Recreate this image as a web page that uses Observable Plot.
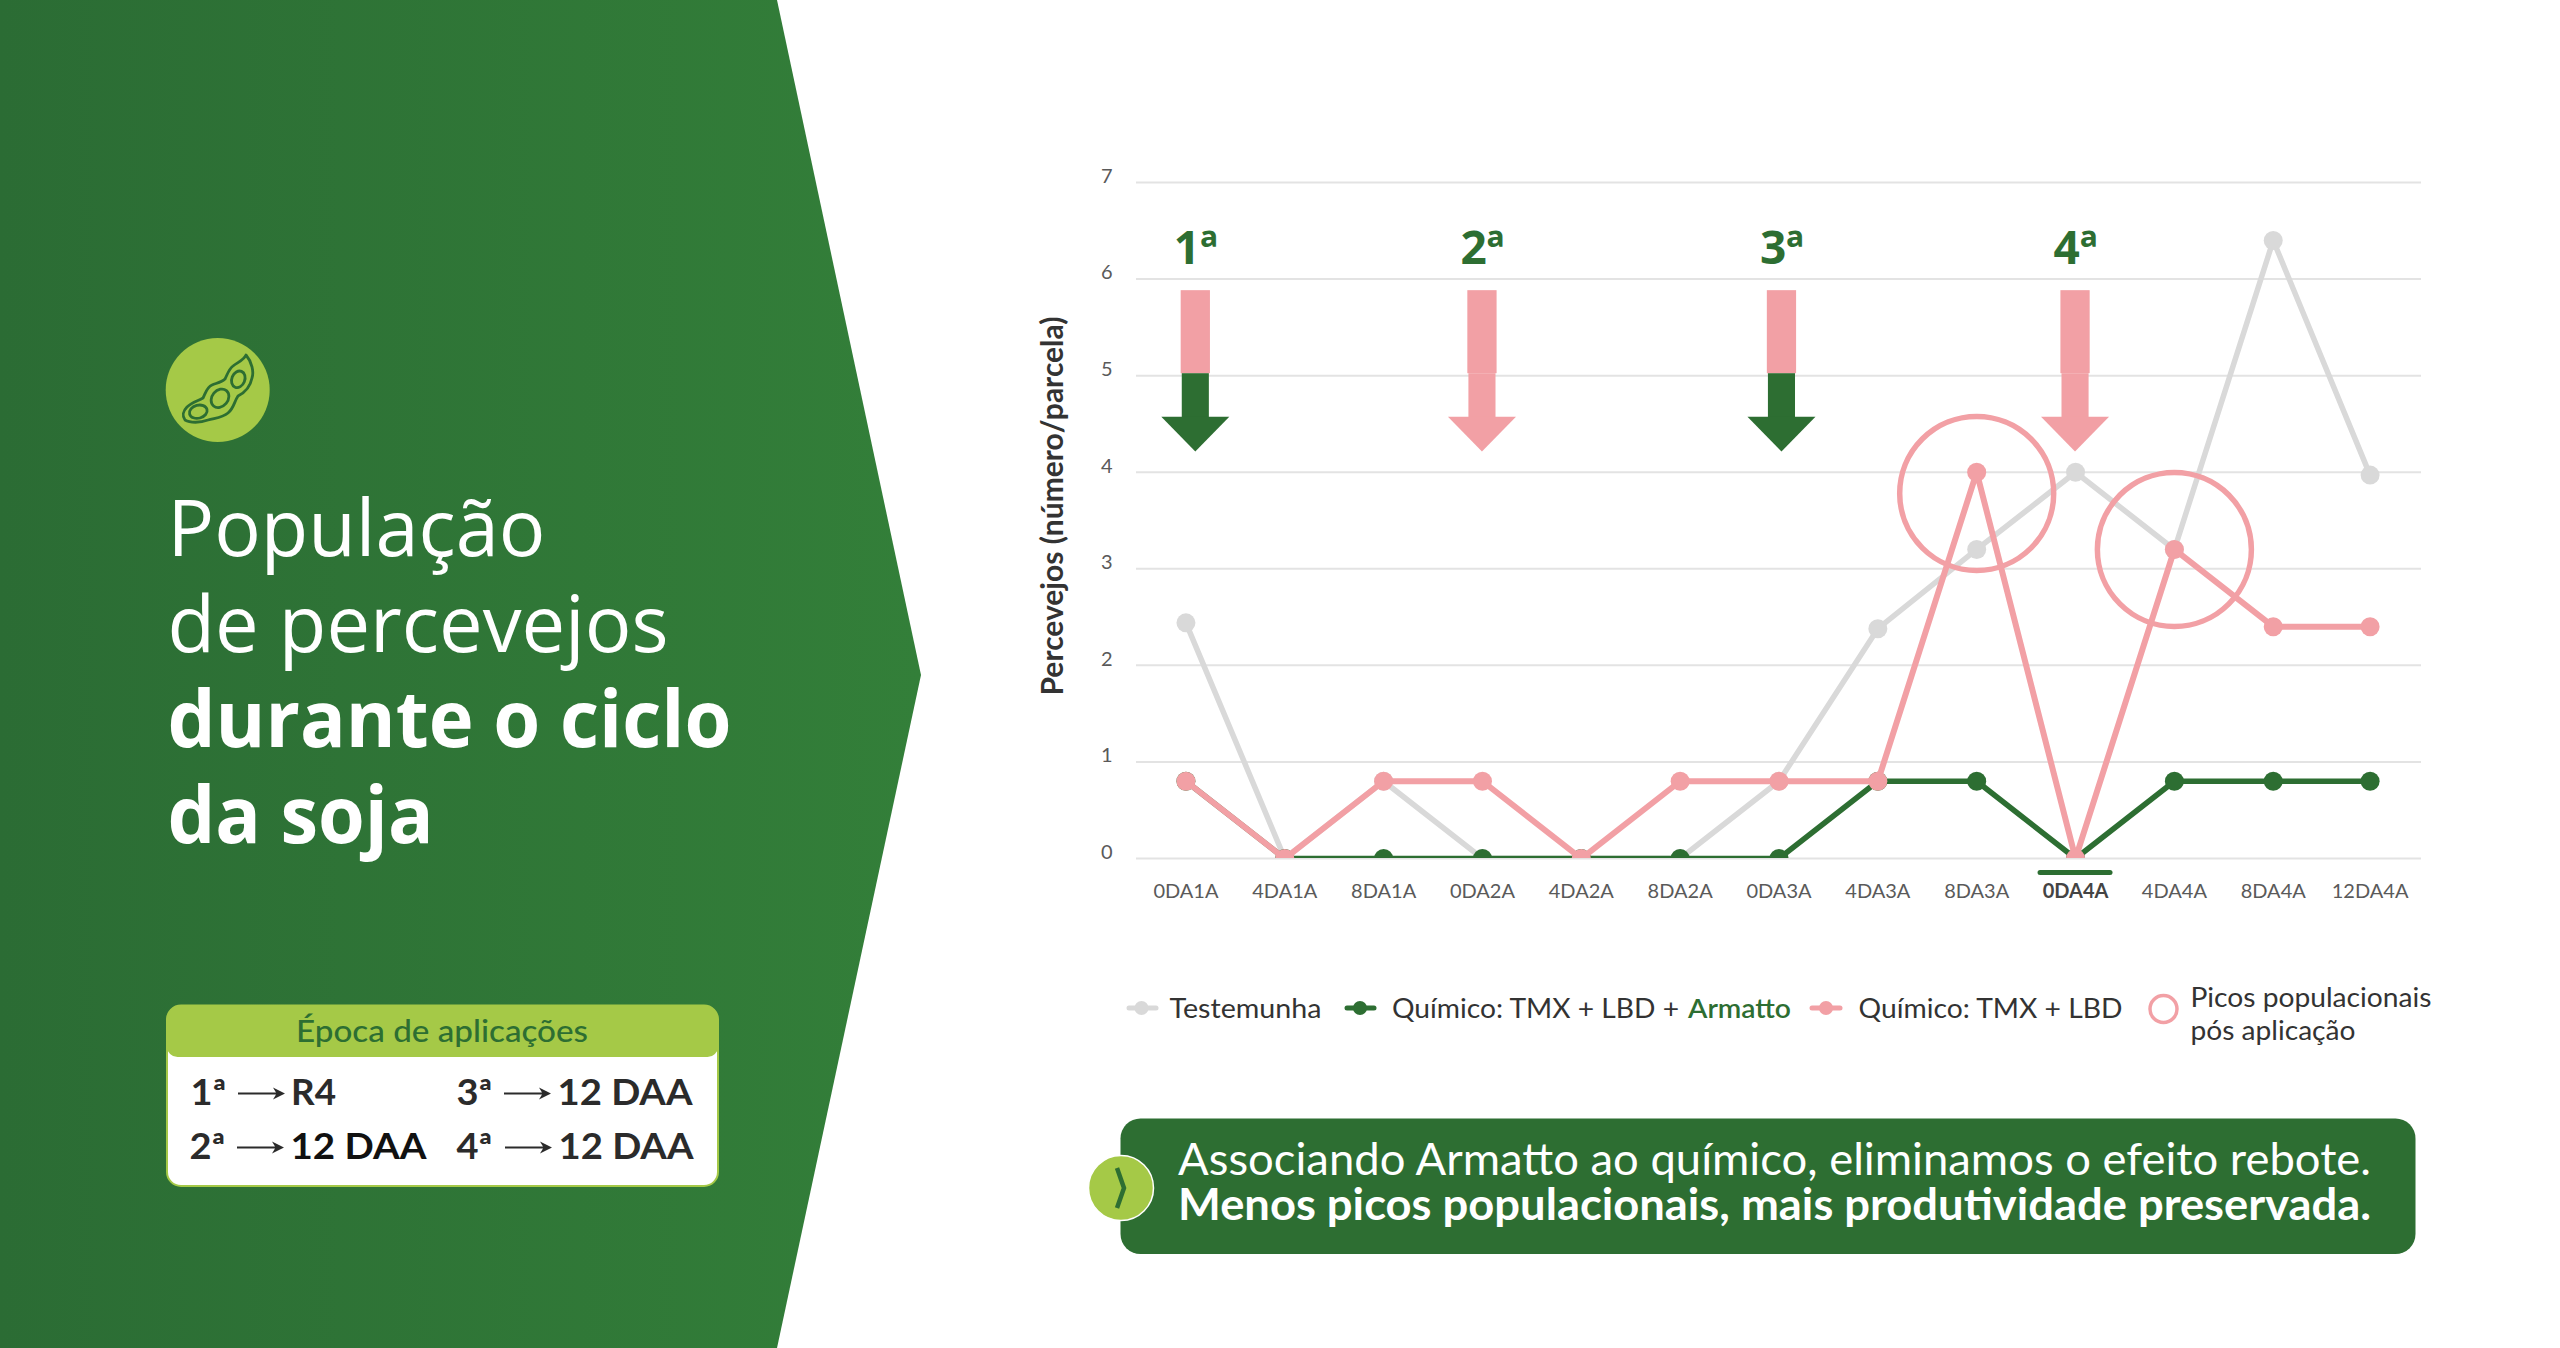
<!DOCTYPE html>
<html lang="pt">
<head>
<meta charset="utf-8">
<title>População de percevejos durante o ciclo da soja</title>
<script src="https://cdn.jsdelivr.net/npm/d3@7"></script>
<script src="https://cdn.jsdelivr.net/npm/@observablehq/plot@0.6"></script>
<style>
html,body{margin:0;padding:0;background:#fff;width:2560px;height:1348px;overflow:hidden}
#page{position:relative;width:2560px;height:1348px}
#deco{position:absolute;left:0;top:0}
#chart{position:absolute;left:1000px;top:0}
#chart svg{display:block;background:transparent}
</style>
</head>
<body>
<div id="page">
<svg id="deco" width="2560" height="1348" viewBox="0 0 2560 1348" xmlns="http://www.w3.org/2000/svg">
  <defs>
    <linearGradient id="pg" x1="0" x2="1" y1="0" y2="0">
      <stop offset="0" stop-color="#2b6c34"/><stop offset="1" stop-color="#337f39"/>
    </linearGradient>
  </defs>
  <polygon points="0,0 777,0 921,675 777,1348 0,1348" fill="url(#pg)"/>

  <circle cx="217.700" cy="390" r="52" fill="#a5c947"/>
  <g fill="none" stroke="#2d6e32" stroke-width="2.800" stroke-linejoin="round">
    <path d="M246 355 C252 362 254 372 252 378 C250 388 244 393 238 396 C234 402 234 408 228 413 C222 418 214 418 208 420 C200 423 190 423 185 420 C182 416 183 411 187 407 C192 402 198 401 203 398 C206 392 207 387 212 385 C217 383 222 382 225 379 C228 373 229 369 233 366 C238 362 244 360 246 355 Z"/>
    <ellipse cx="238.300" cy="379.300" rx="6.500" ry="8.500" transform="rotate(22 238.300 379.300)"/>
    <ellipse cx="220" cy="398.300" rx="8" ry="10" transform="rotate(40 220 398.300)"/>
    <ellipse cx="198.300" cy="411.700" rx="9" ry="6.500" transform="rotate(-15 198.300 411.700)"/>
  </g>

  <g fill="#fff" font-family="'Open Sans'" font-size="78">
    <text x="167.500" y="555.500" font-weight="400" textLength="378" lengthAdjust="spacingAndGlyphs">População</text>
    <text x="167.500" y="651.500" font-weight="400" textLength="501" lengthAdjust="spacingAndGlyphs">de percevejos</text>
    <text x="167.500" y="747" font-weight="700" textLength="564" lengthAdjust="spacingAndGlyphs">durante o ciclo</text>
    <text x="167.500" y="843" font-weight="700" textLength="266" lengthAdjust="spacingAndGlyphs">da soja</text>
  </g>

  <rect x="167" y="1005.500" width="551" height="180.500" rx="14" fill="#fff" stroke="#a5c947" stroke-width="2"/>
  <path d="M167 1019.500 a14 14 0 0 1 14 -14 h523 a14 14 0 0 1 14 14 v27 a10.500 10.500 0 0 1 -10.500 10.500 h-530 a10.500 10.500 0 0 1 -10.500 -10.500 Z" fill="#a5c947"/>
  <text x="296" y="1042" font-family="Lato" font-weight="500" font-size="30" fill="#2d6e32" textLength="292" lengthAdjust="spacingAndGlyphs">Época de aplicações</text>
  <g font-family="Lato" font-weight="700" font-size="36" fill="#2b2b2b">
    <text x="190.500" y="1105" textLength="36" lengthAdjust="spacingAndGlyphs">1ª</text>
    <text x="291" y="1105" textLength="45" lengthAdjust="spacingAndGlyphs">R4</text>
    <text x="189.500" y="1159" textLength="36" lengthAdjust="spacingAndGlyphs">2ª</text>
    <text x="290.500" y="1159" fill="#111" textLength="136" lengthAdjust="spacingAndGlyphs">12 DAA</text>
    <text x="456.500" y="1105" textLength="36" lengthAdjust="spacingAndGlyphs">3ª</text>
    <text x="557.500" y="1105" textLength="135" lengthAdjust="spacingAndGlyphs">12 DAA</text>
    <text x="456.500" y="1159" textLength="36" lengthAdjust="spacingAndGlyphs">4ª</text>
    <text x="558.500" y="1159" textLength="135" lengthAdjust="spacingAndGlyphs">12 DAA</text>
  </g>
  <g fill="#2b2b2b" stroke="none">
    <path d="M238 1092.500 h38 l-3 -5 l12 6 l-12 6 l3 -5 h-38 Z"/>
    <path d="M237 1146.500 h38 l-3 -5 l12 6 l-12 6 l3 -5 h-38 Z"/>
    <path d="M504 1092.500 h38 l-3 -5 l12 6 l-12 6 l3 -5 h-38 Z"/>
    <path d="M505 1146.500 h38 l-3 -5 l12 6 l-12 6 l3 -5 h-38 Z"/>
  </g>

  <!-- legend -->
  <g stroke-linecap="round">
    <line x1="1129" x2="1156" y1="1008" y2="1008" stroke="#d9d9d9" stroke-width="5"/>
    <circle cx="1141.500" cy="1008" r="7" fill="#d9d9d9"/>
    <line x1="1347" x2="1374" y1="1008" y2="1008" stroke="#2d6e32" stroke-width="5"/>
    <circle cx="1360" cy="1008" r="7" fill="#2d6e32"/>
    <line x1="1812" x2="1840" y1="1008" y2="1008" stroke="#f2a0a5" stroke-width="5"/>
    <circle cx="1826" cy="1008" r="7" fill="#f2a0a5"/>
    <circle cx="2163.500" cy="1009" r="13.500" fill="none" stroke="#f2a0a5" stroke-width="3.500"/>
  </g>
  <g font-family="Lato" font-size="27" font-weight="400" fill="#333">
    <text x="1169.500" y="1018" textLength="152" lengthAdjust="spacingAndGlyphs">Testemunha</text>
    <text x="1392" y="1018" textLength="287" lengthAdjust="spacingAndGlyphs">Químico: TMX + LBD +</text>
    <text x="1688" y="1018" fill="#2d6e32" font-weight="600" textLength="103" lengthAdjust="spacingAndGlyphs">Armatto</text>
    <text x="1858.500" y="1018" textLength="264" lengthAdjust="spacingAndGlyphs">Químico: TMX + LBD</text>
    <text x="2190.500" y="1006.500" textLength="241" lengthAdjust="spacingAndGlyphs">Picos populacionais</text>
    <text x="2190.500" y="1039.500" textLength="165" lengthAdjust="spacingAndGlyphs">pós aplicação</text>
  </g>

  <!-- callout -->
  <rect x="1120.500" y="1118.500" width="1295" height="135.500" rx="20" fill="#2d6e32"/>
  <circle cx="1121" cy="1188" r="32.500" fill="#a5c947" stroke="#fff" stroke-width="1.500"/>
  <path d="M1117 1168 L1124 1188 L1117 1208" fill="none" stroke="#2d6e32" stroke-width="4.500" stroke-linejoin="miter"/>
  <g font-family="Lato" font-size="44" fill="#fff">
    <text x="1178" y="1174.500" font-weight="400" textLength="1193" lengthAdjust="spacingAndGlyphs">Associando Armatto ao químico, eliminamos o efeito rebote.</text>
    <text x="1178" y="1219.500" font-weight="700" textLength="1193" lengthAdjust="spacingAndGlyphs">Menos picos populacionais, mais produtividade preservada.</text>
  </g>
</svg>
<div id="chart"></div>
</div>
<script>
// Categories along the x axis (sampling dates) and where each one sits on the index scale
const categories = ["0DA1A","4DA1A","8DA1A","0DA2A","4DA2A","8DA2A","0DA3A","4DA3A","8DA3A","0DA4A","4DA4A","8DA4A","12DA4A"];
const positions  = [0,1,2,3,4,5,6,7,8,9,10,11,11.98];
const highlightedCategory = "0DA4A";

// Series values (percevejos / parcela)
const testemunha    = [2.44,0,0.8,0,0,0,0.8,2.38,3.2,4,3.2,6.4,3.97];
const comArmatto    = [0.8,0,0,0,0,0,0,0.8,0.8,0,0.8,0.8,0.8];
const semArmatto    = [0.8,0,0.8,0.8,0,0.8,0.8,0.8,4,0,3.2,2.4,2.4];
const yTicks        = [0,1,2,3,4,5,6,7];

// Population peaks after application
const peakPositions = [8,10];
const peakCentres   = [3.78,3.2];

// Application markers
const applicationLabels    = ["1ª","2ª","3ª","4ª"];
const applicationPositions = [0.1,3,6.03,9];
const applicationTreated   = [true,false,true,false];

const GRAY = "#d9d9d9", GREEN = "#2d6e32", PINK = "#f2a0a5", INK = "#5a5a5a";
const rows = vals => vals.map((y,i) => ({x: positions[i], y}));
const arrows = applicationPositions.map((x,i) => ({x, label: applicationLabels[i], fill: applicationTreated[i] ? GREEN : PINK}));
const heads = arrows.flatMap((a,i) => [
  {z:i, x:a.x-0.344, y1:4.57, y2:4.57, fill:a.fill},
  {z:i, x:a.x,       y1:4.21, y2:4.57, fill:a.fill},
  {z:i, x:a.x+0.344, y1:4.57, y2:4.57, fill:a.fill}
]);
const labelOf = x => categories[positions.indexOf(x)];
const font = {fontFamily:"Lato"};

const series = [[testemunha,GRAY,5.5],[comArmatto,GREEN,5.5],[semArmatto,PINK,6]];

const chart = Plot.plot({
  width: 1500,
  height: 950,
  marginLeft: 136,
  marginRight: 79,
  marginTop: 182,
  marginBottom: 92,
  style: {background:"transparent"},
  x: {type:"linear", domain:[-0.5,12.5]},
  y: {type:"linear", domain:[0,7]},
  marks: [
    Plot.ruleY(yTicks, {stroke:"#e3e3e3", strokeWidth:2}),
    Plot.axisY(yTicks, {anchor:"left", label:null, tickSize:0, tickPadding:24, dy:-6, fontSize:20, fontWeight:400, fill:INK, tickFormat:d=>String(d), ...font}),
    Plot.axisX(positions.filter(p => labelOf(p) !== highlightedCategory), {anchor:"bottom", label:null, tickSize:0, tickPadding:0, dy:25, fontSize:20, fontWeight:400, fill:INK, tickFormat:labelOf, ...font}),
    Plot.axisX(positions.filter(p => labelOf(p) === highlightedCategory), {anchor:"bottom", label:null, tickSize:0, tickPadding:0, dy:25, fontSize:20, fontWeight:700, fill:"#444", tickFormat:labelOf, ...font}),
    Plot.ruleY(positions.filter(p => labelOf(p) === highlightedCategory), {y:()=>0, x1:d=>d-0.354, x2:d=>d+0.354, dy:14, stroke:GREEN, strokeWidth:5, strokeLinecap:"round"}),
    Plot.text(["Percevejos (número/parcela)"], {x:-0.5, y:()=>3.65, dx:-83, rotate:-90, fontSize:30, fontWeight:700, fill:"#333", ...font}),
    // arrows
    Plot.rect(arrows, {x1:d=>d.x-0.148, x2:d=>d.x+0.148, y1:5.02, y2:5.88, fill:PINK}),
    Plot.rect(arrows, {x1:d=>d.x-0.137, x2:d=>d.x+0.137, y1:4.56, y2:5.02, fill:"fill"}),
    Plot.areaY(heads, {x:"x", y1:"y1", y2:"y2", z:"z", fill:"fill"}),
    Plot.text(arrows, {x:"x", y:()=>6.16, text:"label", lineAnchor:"bottom", fontSize:46, fontWeight:700, fill:GREEN, fontFamily:"'Open Sans'"}),
    // series
    ...series.flatMap(([vals,color,w]) => [
      Plot.line(rows(vals), {x:"x", y:"y", stroke:color, strokeWidth:w, clip:"frame"}),
      Plot.dot(rows(vals), {x:"x", y:"y", r:9.5, fill:color, clip:"frame"})
    ]),
    // peaks
    Plot.dot(peakPositions.map((x,i)=>({x, y:peakCentres[i]})), {x:"x", y:"y", r:77, stroke:PINK, strokeWidth:5.5, fill:"none"})
  ]
});
document.getElementById("chart").appendChild(chart);
</script>
</body>
</html>
